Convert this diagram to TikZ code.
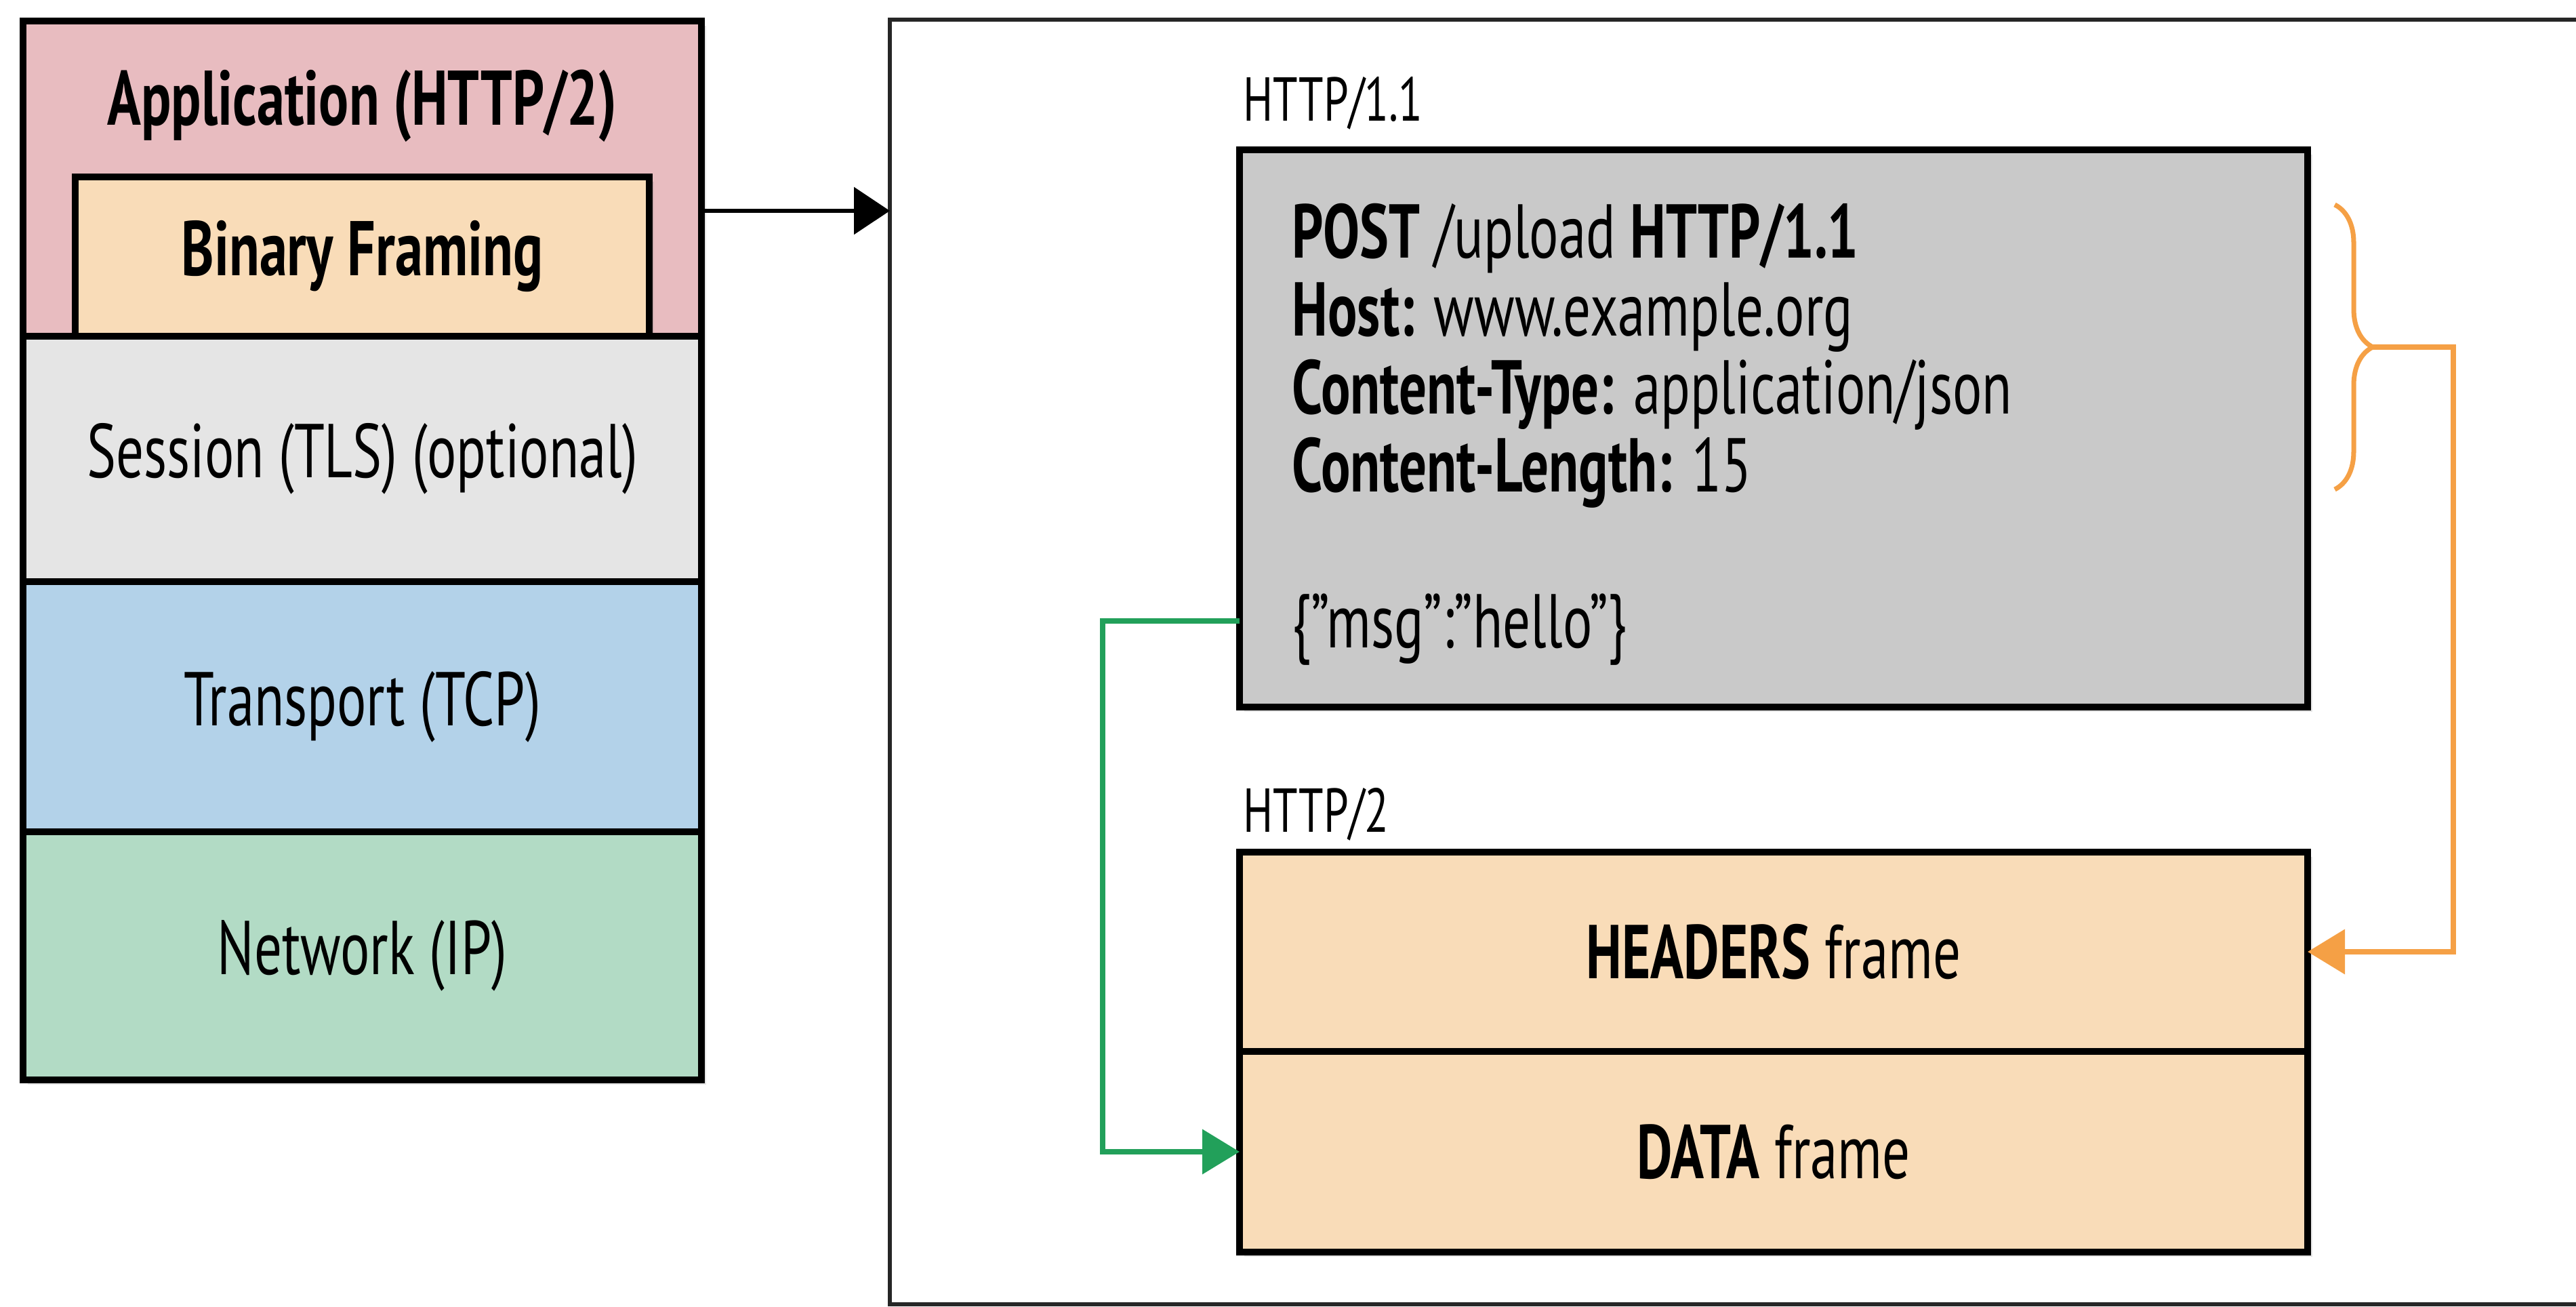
\documentclass[tikz,border=0pt]{standalone}
\usepackage{fontspec}
\setmainfont{PT Sans}[FakeStretch=0.72]
\usepackage{tikz}
\usetikzlibrary{arrows.meta, positioning, calc, shadows, decorations.pathreplacing}
\definecolor{appColor}{RGB}{232,188,192}
\definecolor{framingColor}{RGB}{249,220,184}
\definecolor{sessionColor}{RGB}{229,229,229}
\definecolor{transportColor}{RGB}{179,210,233}
\definecolor{networkColor}{RGB}{178,219,197}
\definecolor{requestColor}{RGB}{201,201,201}
\definecolor{braceColor}{RGB}{245,160,69}
\definecolor{bodyColor}{RGB}{34,160,90}

\begin{document}
\begin{tikzpicture}[
        layer/.style={rectangle, draw, line width=2.6pt, outer sep=0pt, minimum width=10.01cm, align=center, font=\fontsize{32}{36}\selectfont, drop shadow={shadow xshift=0.07cm, shadow yshift=-0.07cm, opacity=0.2}},
        framebox/.style={rectangle, draw, line width=2.6pt, outer sep=0pt, minimum width=15.76cm, fill=framingColor, font=\fontsize{32}{36}\selectfont, drop shadow={shadow xshift=0.07cm, shadow yshift=-0.07cm, opacity=0.2}},
        tag/.style={inner sep=0pt, anchor=base west, font=\fontsize{26}{30}\selectfont},
        arrow/.style={-{Triangle[length=5.3mm, width=6.9mm]}, line width=1.7pt},
        link/.style={-{Triangle[length=5.5mm, width=6.5mm]}, line width=2.1pt},
    ]
        \path[use as bounding box, clip] (0,0) rectangle (38.01,19.28);

        % Protocol stack
        \node[layer, fill=appColor, minimum height=4.65cm] (app) at (5.345,16.645) {};
        \node[anchor=base, font=\fontsize{32.5}{36}\selectfont\bfseries] (apptitle) at ([yshift=-15.4mm]app.north) {Application (HTTP/2)};
        \node[layer, fill=framingColor, minimum width=8.47cm, minimum height=2.35cm, drop shadow={opacity=0}, font=\fontsize{32.5}{36}\selectfont\bfseries, above=0cm of app.south] (framing) {Binary Framing};
        \node[layer, fill=sessionColor, minimum height=3.62cm, below=0cm of app] (session) {Session (TLS) (optional)};
        \node[layer, fill=transportColor, minimum height=3.69cm, below=0cm of session] (transport) {Transport (TCP)};
        \node[layer, fill=networkColor, minimum height=3.66cm, below=0cm of transport] (network) {Network (IP)};

        % Outer frame
        \coordinate (frameNW) at (13.13,18.99);
        \coordinate (frameSW) at (13.13,0.04);
        \draw[line width=1.7pt, black!85] (38.2,18.99) -- (frameNW) -- (frameSW) -- (38.2,0.04);
        \draw[arrow] ([yshift=-4.75mm]app.east) -- ([yshift=-4.75mm]app.east -| frameNW);

        % HTTP/1.1 request
        \node[rectangle, draw, line width=2.6pt, outer sep=0pt, fill=requestColor, minimum width=15.76cm, minimum height=8.22cm, drop shadow={shadow xshift=0.07cm, shadow yshift=-0.07cm, opacity=0.2}] (http1) at (26.17,12.96) {};
        \node[tag] (http1tag) at ([xshift=0.5mm, yshift=4.2mm]http1.north west) {HTTP/1.1};
        \node[anchor=north west, inner sep=0pt, align=left, font=\fontsize{32}{32.7}\selectfont] (request) at (19.06,16.28) {\textbf{POST} /upload \textbf{HTTP/1.1}\\ \textbf{Host:} www.example.org\\ \textbf{Content-Type:} application/json\\ \textbf{Content-Length:} 15\\[32.7pt] \{”msg”:”hello”\}};

        % HTTP/2 frames
        \node[framebox, minimum height=2.94cm] (headers) at (26.17,5.24) {\textbf{HEADERS} frame};
        \node[framebox, minimum height=2.96cm, below=0cm of headers] (data) {\textbf{DATA} frame};
        \node[tag] (http2tag) at ([xshift=0.5mm, yshift=2.9mm]headers.north west) {HTTP/2};

        % Mapping
        \coordinate (bracetop) at ([xshift=4mm, yshift=-8.1mm]http1.north east);
        \coordinate (bracebot) at ([xshift=4mm, yshift=-50.1mm]http1.north east);
        \draw[braceColor, line width=2pt, decorate, decoration={brace, amplitude=5.6mm}] (bracetop) -- (bracebot);
        \coordinate (bracetip) at ($(bracetop)!0.5!(bracebot) + (5.6mm,0)$);
        \draw[link, braceColor] (bracetip) -- ++(1.19,0) |- (headers.east);
        \draw[link, bodyColor] ([yshift=-28.4mm]http1.west) -- ++(-2.02,0) |- (data.west);
    \end{tikzpicture}
\end{document}
